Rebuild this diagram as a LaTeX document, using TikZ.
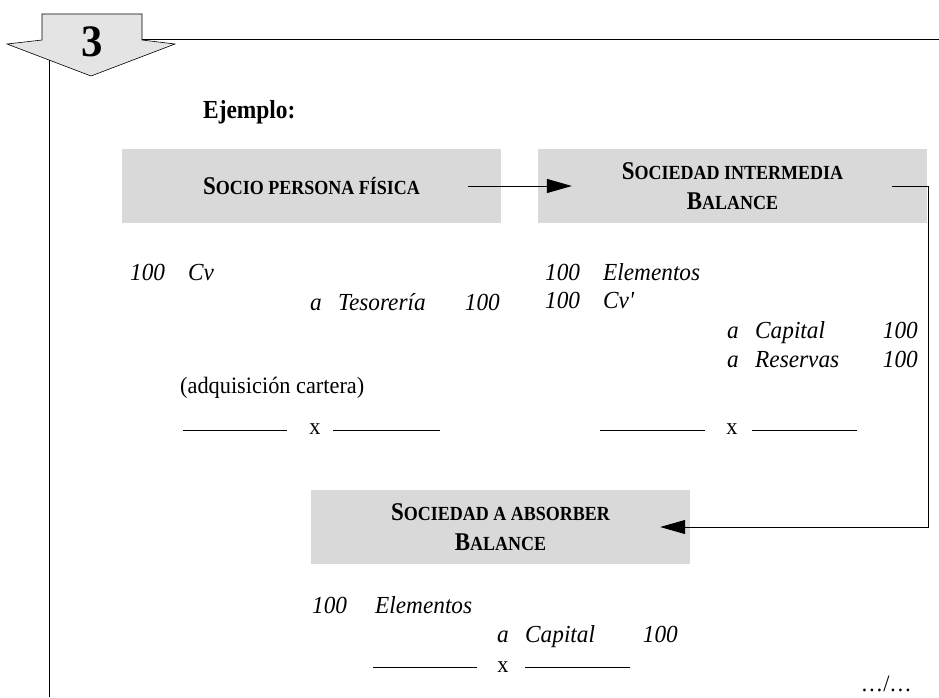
\documentclass[tikz,border=0pt]{standalone}
\usepackage{fontspec}
\setmainfont{Liberation Serif}[FakeStretch=0.95]
\newfontfamily\hdfont{Liberation Serif}[FakeStretch=0.9]
\usetikzlibrary{arrows.meta}
\definecolor{boxgray}{HTML}{D9D9D9}
\definecolor{badgegray}{HTML}{E4E4E4}
\newcommand{\fsc}[2]{{\fontsize{25.5}{30}\selectfont #1}{\fontsize{20}{30}\selectfont #2}}
\tikzset{
  hbox/.style={fill=boxgray, draw=none, minimum width=379pt, minimum height=74pt, inner sep=0pt,
    align=center, font=\hdfont\bfseries\fontsize{25.5}{30}\selectfont},
  it/.style={font=\itshape\fontsize{24.5}{28}\selectfont, inner sep=0pt, anchor=base west},
  itr/.style={it, anchor=base east},
  rm/.style={font=\fontsize{23.5}{28}\selectfont, inner sep=0pt},
  conn/.style={line width=1pt, -{Triangle[length=25pt,width=14pt]}},
  rule/.style={line width=0.8pt}
}
\begin{document}
\begin{tikzpicture}[x=1pt,y=-1pt]
\useasboundingbox (0,0) rectangle (939,697);
% badge
\draw[line width=0.6pt, fill=badgegray] (42,14) -- (142,14) -- (142,40) -- (175,44) -- (91,76) -- (7,44) -- (42,40) -- cycle;
\node[font=\bfseries\fontsize{45}{45}\selectfont, inner sep=0pt] (num) at (92,42) {3};
\draw[line width=0.8pt] (142,39) -- (939,39);
\draw[line width=0.8pt] (49,60) -- (49,697);
% title
\node[font=\hdfont\bfseries\fontsize{26}{28}\selectfont, inner sep=0pt, anchor=base west] (ej) at (203,118) {Ejemplo:};
% boxes
\node[hbox] (b1) at (311.5,186) {\fsc{S}{OCIO PERSONA FÍSICA}};
\node[hbox, minimum width=389pt] (b2) at (732.5,186) {\fsc{S}{OCIEDAD INTERMEDIA}\\\fsc{B}{ALANCE}};
\node[hbox] (b3) at (500.5,527) {\fsc{S}{OCIEDAD A ABSORBER}\\\fsc{B}{ALANCE}};
% connectors
\draw[conn] ([xshift=-33pt]b1.east) -- ([xshift=34pt]b2.west);
\draw[conn] ([xshift=-35pt]b2.east) -| ([xshift=1pt]b2.east |- b3.east) -- ([xshift=-30pt]b3.east);
% left entries
\node[it] (l1a) at (130,280) {100};
\node[it] (l1b) at (188,280) {Cv};
\node[it] (l2a) at (310,310) {a};
\node[it] (l2b) at (338,310) {Tesorería};
\node[itr] (l2c) at (500,310) {100};
\node[rm, anchor=base west] (adq) at (180,393) {(adquisición cartera)};
\node[rm] (x1) at (315,429) {x};
\draw[rule] (183,430) -- (287,430);
\draw[rule] (333,430) -- (440,430);
% right entries
\node[it] (r1a) at (545,280) {100};
\node[it] (r1b) at (603,280) {Elementos};
\node[it] (r2a) at (545,308) {100};
\node[it] (r2b) at (603,308) {Cv\textquotesingle};
\node[it] (r3a) at (727,338) {a};
\node[it] (r3b) at (755,338) {Capital};
\node[itr] (r3c) at (918,338) {100};
\node[it] (r4a) at (727,367) {a};
\node[it] (r4b) at (755,367) {Reservas};
\node[itr] (r4c) at (918,367) {100};
\node[rm] (x2) at (732,429) {x};
\draw[rule] (600,430) -- (705,430);
\draw[rule] (752,430) -- (857,430);
% bottom entries
\node[it] (c1a) at (312,613) {100};
\node[it] (c1b) at (375,613) {Elementos};
\node[it] (c2a) at (497,642) {a};
\node[it] (c2b) at (525,642) {Capital};
\node[itr] (c2c) at (678,642) {100};
\node[rm] (x3) at (503,667) {x};
\draw[rule] (373,667) -- (477,667);
\draw[rule] (525,667) -- (630,667);
% continuation
\node[rm, anchor=base east] (cont) at (912,691) {…/…};
\end{tikzpicture}
\end{document}
